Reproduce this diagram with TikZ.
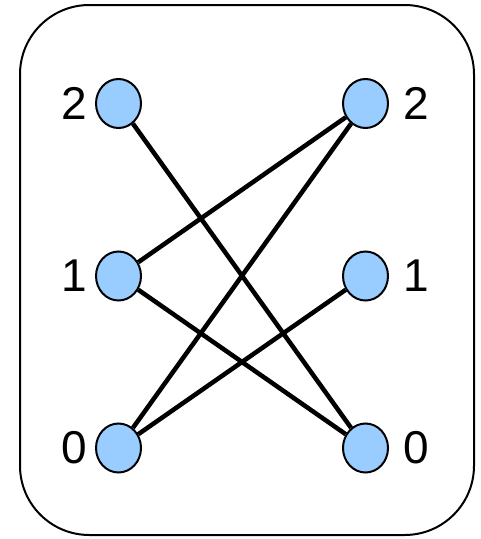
\documentclass[tikz,border=0pt]{standalone}
\usepackage{fontspec}
\setmainfont{Liberation Sans}
\usetikzlibrary{positioning,shapes.geometric}
\definecolor{vertexblue}{HTML}{99CCFF}
\tikzset{
  vertex/.style={ellipse,draw=black,line width=1.5pt,fill=vertexblue,
    minimum width=33.75pt,minimum height=36.75pt,inner sep=0pt},
  digit/.style={inner sep=0pt,font=\fontsize{34.5}{36}\selectfont},
  edge/.style={line width=3.4pt,draw=black},
  frame/.style={draw=black,line width=1.5pt,rounded corners=52pt}
}
\begin{document}
\begin{tikzpicture}[x=0.75pt,y=-0.75pt]
\useasboundingbox (0,0) rectangle (480,539);
\draw[frame] (20,5) rectangle (474,535);
% left column
\node[vertex] (l2) at (118.5,103.5) {};
\node[vertex] (l1) at (118.5,276) {};
\node[vertex] (l0) at (118.5,448) {};
% right column
\node[vertex] (r2) at (365.5,103.5) {};
\node[vertex] (r1) at (365.5,276) {};
\node[vertex] (r0) at (365.5,448) {};
\node[digit,left=6pt of l2] (tl2) {2};
\node[digit,left=6pt of l1] (tl1) {1};
\node[digit,left=6pt of l0] (tl0) {0};
\node[digit,right=11pt of r2] (tr2) {2};
\node[digit,right=11pt of r1] (tr1) {1};
\node[digit,right=11pt of r0] (tr0) {0};
\draw[edge] (l2)--(r0); \draw[edge] (l1)--(r2); \draw[edge] (l1)--(r0);
\draw[edge] (l0)--(r2); \draw[edge] (l0)--(r1);
\end{tikzpicture}
\end{document}
